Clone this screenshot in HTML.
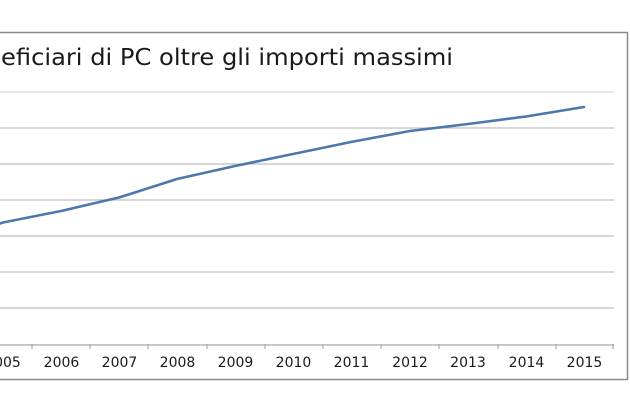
<!DOCTYPE html>
<html><head><meta charset="utf-8"><style>
html,body{margin:0;padding:0;background:#fff;}
svg{display:block;}
</style></head><body>
<svg width="630" height="412" viewBox="0 0 630 412" xmlns="http://www.w3.org/2000/svg">
<rect x="0" y="0" width="630" height="412" fill="#fff"/>
<!-- frame -->
<path d="M0 32.5 H627.5 V379.5 H0" fill="none" stroke="#8a8a8a" stroke-width="1.5"/>
<!-- title -->
<text x="1" y="65" font-family="DejaVu Sans, Liberation Sans, sans-serif" font-size="23" fill="#1a1a1a" textLength="452" lengthAdjust="spacingAndGlyphs">eficiari di PC oltre gli importi massimi</text>
<!-- gridlines -->
<g stroke="#bdbdbd" stroke-width="1.3">
<line x1="0" y1="92" x2="614" y2="92" stroke="#d6d6d6"/>
<line x1="0" y1="128" x2="614" y2="128"/>
<line x1="0" y1="164" x2="614" y2="164"/>
<line x1="0" y1="200" x2="614" y2="200"/>
<line x1="0" y1="236" x2="614" y2="236"/>
<line x1="0" y1="272" x2="614" y2="272"/>
<line x1="0" y1="308" x2="614" y2="308"/>
</g>
<!-- axis -->
<line x1="0" y1="345" x2="614" y2="345" stroke="#a8a8a8" stroke-width="1.3"/>
<g stroke="#a8a8a8" stroke-width="1.2">
<line x1="32" y1="344" x2="32" y2="349"/>
<line x1="90" y1="344" x2="90" y2="349"/>
<line x1="148" y1="344" x2="148" y2="349"/>
<line x1="207" y1="344" x2="207" y2="349"/>
<line x1="265" y1="344" x2="265" y2="349"/>
<line x1="323" y1="344" x2="323" y2="349"/>
<line x1="381" y1="344" x2="381" y2="349"/>
<line x1="439" y1="344" x2="439" y2="349"/>
<line x1="498" y1="344" x2="498" y2="349"/>
<line x1="556" y1="344" x2="556" y2="349"/>
<line x1="613" y1="344" x2="613" y2="349"/>
</g>
<!-- labels -->
<g font-family="DejaVu Sans, Liberation Sans, sans-serif" font-size="14" fill="#1a1a1a" text-anchor="middle">
<text x="3" y="367">2005</text>
<text x="61.5" y="367">2006</text>
<text x="119.5" y="367">2007</text>
<text x="177.5" y="367">2008</text>
<text x="235.5" y="367">2009</text>
<text x="293.5" y="367">2010</text>
<text x="351.5" y="367">2011</text>
<text x="410" y="367">2012</text>
<text x="468" y="367">2013</text>
<text x="526.5" y="367">2014</text>
<text x="584.5" y="367">2015</text>
</g>
<!-- series -->
<polyline fill="none" stroke="#4b78ad" stroke-width="2.6" stroke-linejoin="round" stroke-linecap="round"
points="0,223.5 3,222.5 61,211 119,197.5 177,179 235,166 293,154 351,142 410,131 468,124 526,116.5 584,107"/>
</svg>
</body></html>
